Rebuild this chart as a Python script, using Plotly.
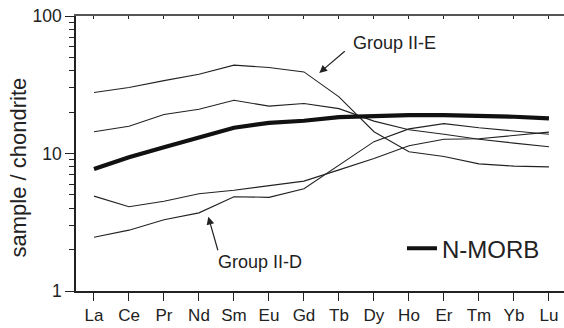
import plotly.graph_objects as go

# Chondrite-normalised REE patterns
elements = ["La", "Ce", "Pr", "Nd", "Sm", "Eu", "Gd", "Tb", "Dy", "Ho", "Er", "Tm", "Yb", "Lu"]

group_e_high = [27.8, 30.2, 33.9, 37.7, 43.9, 42.2, 39.2, 25.8, 14.4, 10.3, 9.5, 8.4, 8.1, 8.0]
group_e_low = [14.4, 15.8, 19.2, 21.0, 24.4, 22.1, 23.1, 21.2, 17.2, 14.9, 13.8, 12.7, 11.9, 11.2]
group_d_high = [4.9, 4.1, 4.5, 5.1, 5.4, 5.8, 6.3, 7.6, 9.2, 11.4, 12.7, 12.8, 13.5, 14.3]
group_d_low = [2.46, 2.77, 3.3, 3.7, 4.85, 4.8, 5.55, 8.2, 12.2, 15.1, 16.5, 15.4, 14.6, 13.8]
n_morb = [7.7, 9.4, 11.1, 13.1, 15.4, 16.7, 17.3, 18.4, 18.8, 19.0, 19.0, 18.8, 18.5, 18.0]

y_major = [1, 10, 100]
y_minor = [2, 3, 4, 5, 6, 7, 8, 9, 20, 30, 40, 50, 60, 70, 80, 90]

FONT = "Liberation Sans, Arial, sans-serif"
INK = "#222222"

fig = go.Figure()

for series in (group_e_high, group_e_low, group_d_high, group_d_low):
    fig.add_trace(go.Scatter(
        x=elements, y=series, mode="lines",
        line=dict(color=INK, width=1.1),
        showlegend=False, hoverinfo="skip",
    ))

fig.add_trace(go.Scatter(
    x=elements, y=n_morb, mode="lines", name="N-MORB",
    line=dict(color="#111111", width=4.2),
))

# carrier for the top frame axis
fig.add_trace(go.Scatter(
    x=elements, y=n_morb, mode="markers", xaxis="x2",
    marker=dict(opacity=0), showlegend=False, hoverinfo="skip",
))

x_range = [-0.514, 13.43]

fig.update_layout(
    width=564, height=328,
    autosize=False,
    margin=dict(l=76, r=0, t=16, b=37),
    paper_bgcolor="white", plot_bgcolor="white",
    font=dict(family=FONT, color=INK),
    xaxis=dict(
        type="category", categoryarray=elements, range=x_range,
        showline=True, linecolor=INK, linewidth=1.5,
        ticks="outside", ticklen=8, tickwidth=1.4, tickcolor=INK,
        tickfont=dict(size=17, family=FONT, color=INK),
        showgrid=False, zeroline=False,
    ),
    xaxis2=dict(
        type="category", categoryarray=elements, range=x_range,
        overlaying="x", side="top",
        showline=True, linecolor="#555555", linewidth=1.5,
        ticks="inside", ticklen=3, tickwidth=1.4, tickcolor=INK,
        showticklabels=False, showgrid=False, zeroline=False,
    ),
    yaxis=dict(
        type="log", range=[0, 2],
        tickmode="array", tickvals=y_major, ticktext=[str(v) for v in y_major],
        showline=True, linecolor=INK, linewidth=1.5,
        ticks="outside", ticklen=9, tickwidth=1.4, tickcolor=INK,
        tickfont=dict(size=17.5, family=FONT, color=INK),
        minor=dict(tickmode="array", tickvals=y_minor, ticks="outside",
                   ticklen=5, tickwidth=1.2, tickcolor=INK, showgrid=False),
        showgrid=False, zeroline=False,
    ),
    legend=dict(
        x=0.668, y=0.154, xanchor="left", yanchor="middle",
        bgcolor="rgba(0,0,0,0)", borderwidth=0,
        font=dict(size=24, family=FONT, color=INK),
    ),
)

# y-axis title, set slightly below the axis midpoint
fig.add_annotation(x=-0.1168, y=0.449, xref="paper", yref="paper",
                   text="sample / chondrite", textangle=-90, showarrow=False,
                   xanchor="center", yanchor="middle",
                   font=dict(size=22, family=FONT, color=INK))

arrow_style = dict(showarrow=True, arrowhead=2, arrowsize=1.3, arrowwidth=1.2,
                   arrowcolor=INK, text="", standoff=0, startstandoff=0)

fig.add_annotation(x=6.437, y=1.586, ax=27, ay=-23, **arrow_style)
fig.add_annotation(x=3.266, y=0.540, ax=10, ay=35, **arrow_style)

fig.add_annotation(x=7.33, y=1.806, text="Group II-E", showarrow=False,
                   xanchor="left", yanchor="middle",
                   font=dict(size=18, family=FONT, color=INK))
fig.add_annotation(x=3.50, y=0.211, text="Group II-D", showarrow=False,
                   xanchor="left", yanchor="middle",
                   font=dict(size=18, family=FONT, color=INK))

fig.write_html("out.html")
